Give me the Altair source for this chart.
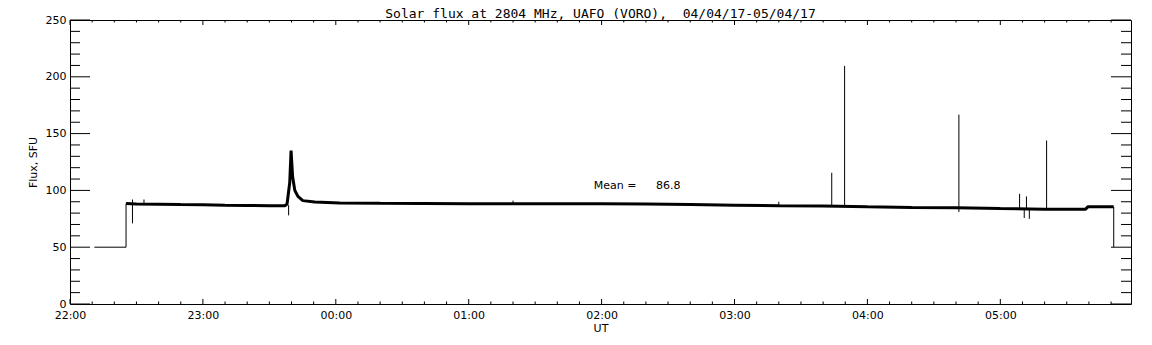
import altair as alt
import pandas as pd

# ---------------- data ----------------
TITLE = "Solar flux at 2804 MHz, UAFO (VORO),\u00a0 04/04/17-05/04/17"

# time in minutes after 22:00 UT
pre_minutes = [11.0, 25.3, 25.3]
pre_flux = [50, 50, 88.5]

band_minutes = [25.3, 30, 40, 50, 60, 70, 80, 90, 97, 98.0, 99.2, 99.8, 100.5,
                101.5, 102.9, 105.1, 110.5, 121.8, 140, 160, 180, 200, 220, 240,
                260, 280, 300, 320, 340, 360, 380, 400, 420, 440, 458.5, 459.5, 471.2]
band_flux = [88.5, 88, 87.8, 87.5, 87.3, 87, 86.8, 86.5, 86.5, 88, 107, 135, 112,
             100, 94.7, 91, 89.7, 89, 88.6, 88.5, 88.3, 88.3, 88.2, 88.2,
             88, 87.5, 87, 86.5, 86.2, 85.5, 85, 84.8, 84, 83.5, 83.5, 85.5, 85.5]

post_minutes = [471.2, 471.2]
post_flux = [85.5, 50]

spike_minutes = [28.2, 33.4, 98.7, 200, 320, 343.9, 349.7, 401.3, 428.7, 430.8, 431.8, 433.1, 440.9]
spike_low = [71, 87, 78, 88, 87, 86, 86, 81, 84, 75.7, 84, 75, 83.5]
spike_high = [92, 92, 87, 91, 90, 115.5, 209.6, 166.7, 97, 84, 94.7, 84, 143.9]

mean_value = 86.8
mean_label_minute = 236.5
mean_value_minute = 264.6
mean_label_flux = 103.5

x_tick_minutes = [0, 60, 120, 180, 240, 300, 360, 420]
x_tick_labels = ["22:00", "23:00", "00:00", "01:00", "02:00", "03:00", "04:00", "05:00"]
x_minor_minutes = [m for m in range(10, 480, 10) if m % 60 != 0]
y_major = [0, 50, 100, 150, 200, 250]
y_minor = [v for v in range(10, 250, 10) if v % 50 != 0]

X_DOMAIN = [0, 479]
Y_DOMAIN = [0, 250]
W, H = 1061, 284
FONT = "DejaVu Sans"
TITLE_FONT = "DejaVu Sans Mono"

# ---------------- build ----------------
xs = alt.Scale(domain=X_DOMAIN, nice=False, zero=False)
ys = alt.Scale(domain=Y_DOMAIN, nice=False, zero=False)

label_expr = " : ".join(f"datum.value == {m} ? '{l}'" for m, l in zip(x_tick_minutes, x_tick_labels)) + " : ''"

X_AXIS = alt.Axis(values=x_tick_minutes, labelExpr=label_expr, labelPadding=5,
                  title="UT", titlePadding=2, orient="bottom")
Y_AXIS = alt.Axis(values=y_major, labelPadding=4, title="Flux, SFU", titlePadding=7, orient="left")


def X(field):
    return alt.X(field, type="quantitative", scale=xs, axis=X_AXIS)


def Y(field):
    return alt.Y(field, type="quantitative", scale=ys, axis=Y_AXIS)


band_df = pd.DataFrame({"m": band_minutes, "f": band_flux, "i": range(len(band_minutes))})
thin_df = pd.DataFrame({
    "m": pre_minutes + post_minutes,
    "f": pre_flux + post_flux,
    "seg": ["pre"] * len(pre_minutes) + ["post"] * len(post_minutes),
    "i": list(range(len(pre_minutes))) + list(range(len(post_minutes))),
})
spike_df = pd.DataFrame({"m": spike_minutes, "f": spike_low, "hi": spike_high})

band = alt.Chart(band_df).mark_line(color="black", strokeWidth=3, strokeJoin="bevel").encode(
    x=X("m"), y=Y("f"), order="i:Q",
)

thin = alt.Chart(thin_df).mark_line(color="black", strokeWidth=1).encode(
    x=X("m"), y=Y("f"), detail="seg:N", order="i:Q",
)

spikes = alt.Chart(spike_df).mark_rule(color="black", strokeWidth=1).encode(
    x=X("m"), y=Y("f"), y2="hi:Q",
)

mean_df = pd.DataFrame({
    "m": [mean_label_minute, mean_value_minute],
    "f": [mean_label_flux, mean_label_flux],
    "t": ["Mean =", f"{mean_value:.1f}"],
})
mean_text = alt.Chart(mean_df).mark_text(font=FONT, fontSize=11, align="left", baseline="middle",
                                         color="black").encode(
    x=X("m"), y=Y("f"), text="t:N",
)

# chart title, drawn as a text mark just above the plot frame
title_df = pd.DataFrame({"t": [TITLE]})
title_text = alt.Chart(title_df).mark_text(font=TITLE_FONT, fontSize=13, align="center",
                                          baseline="alphabetic", color="black").encode(
    x=alt.value(W / 2), y=alt.value(-2), text="t:N",
)


# inward tick marks (IDL style) drawn as rules on the shared scales
def yticks(values, length):
    df = pd.DataFrame({"f": values})
    left = alt.Chart(df).mark_rule(color="black", strokeWidth=1).encode(
        y=Y("f"), x=alt.value(0), x2=alt.value(length))
    right = alt.Chart(df).mark_rule(color="black", strokeWidth=1).encode(
        y=Y("f"), x=alt.value(W - length), x2=alt.value(W))
    return [left, right]


def xticks(values, length):
    df = pd.DataFrame({"m": values})
    bottom = alt.Chart(df).mark_rule(color="black", strokeWidth=1).encode(
        x=X("m"), y=alt.value(H), y2=alt.value(H - length))
    top = alt.Chart(df).mark_rule(color="black", strokeWidth=1).encode(
        x=X("m"), y=alt.value(0), y2=alt.value(length))
    return [bottom, top]


tick_layers = yticks(y_major, 20) + yticks(y_minor, 10) + xticks(x_tick_minutes, 5) + xticks(x_minor_minutes, 2.5)

chart = alt.layer(band, thin, spikes, mean_text, title_text, *tick_layers).properties(
    width=W, height=H,
    autosize=alt.AutoSizeParams(type="none"),
    padding={"left": 62, "top": 12, "right": 13, "bottom": 33},
    background="white",
).configure_view(
    stroke="black", strokeWidth=1
).configure_axis(
    ticks=False, tickSize=0, domain=False, grid=False, labelFlush=False,
    labelFont=FONT, labelFontSize=11, titleFont=FONT, titleFontSize=11,
    titleFontWeight="normal", labelColor="black", titleColor="black",
)

chart.save("out.html", embed_options={"renderer": "svg", "actions": False})
